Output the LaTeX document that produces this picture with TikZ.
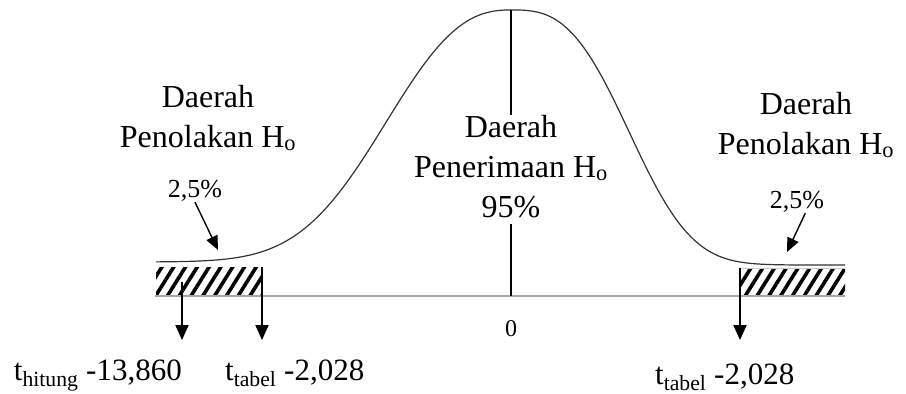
\documentclass[tikz,border=0pt]{standalone}
\usepackage{fontspec}
\setmainfont{Liberation Serif}
\usepackage{tikz}
\usetikzlibrary{arrows.meta, patterns.meta, positioning}

\begin{document}
\begin{tikzpicture}[x=1pt, y=-1pt, on grid, node distance=40pt,
    daerah/.style={font=\fontsize{32}{38}\selectfont, inner sep=0pt, text height=22pt, text depth=7pt},
    persen/.style={font=\fontsize{26}{30}\selectfont, inner sep=1pt, anchor=base},
    tlabel/.style={font=\fontsize{31}{36}\selectfont, inner sep=0pt},
    panah/.style={-{Triangle[length=15pt, width=13pt]}, line width=2pt},
    kecil/.style={-{Triangle[length=14pt, width=12pt]}, line width=1.4pt},
    arsir/.style={pattern={Lines[angle=58, distance=10pt, line width=3.6pt]}},
    kurva/.style={black!80, line width=1.2pt}]
    \useasboundingbox (0,0) rectangle (906,394);

    \fill[arsir] (156,267) rectangle (262,295);
    \fill[arsir] (740,268) rectangle (845,295);
    \draw[gray!40, line width=0.8pt] (740,268) -- (845,268);
    \draw[gray!70, line width=2.5pt] (155,296) -- (845,296);

    \draw[kurva] plot[domain=156:511, samples=120]
        (\x, {262-252*exp(-1*pow((511.001-\x)/155, 2.45))});
    \draw[kurva] plot[domain=511:845, samples=120]
        (\x, {265-255*exp(-1*pow((\x-510.999)/137, 2.9))});

    \coordinate (puncak) at (511,10);
    \coordinate (nol) at (511,296);

    \node[daerah, anchor=base] (d1) at (208,107) {Daerah};
    \node[daerah] (d2) [below=of d1] {Penolakan H\textsubscript{o}};

    \node[daerah, anchor=base] (c1) at (511,137) {Daerah};
    \node[daerah] (c2) [below=of c1] {Penerimaan H\textsubscript{o}};
    \node[daerah] (c3) [below=of c2] {95\%};

    \node[daerah, anchor=base] (r1) at (806,114) {Daerah};
    \node[daerah] (r2) [below=of r1] {Penolakan H\textsubscript{o}};

    \node[persen] (pl) at (195,197) {2,5\%};
    \node[persen] (pr) at (797,208) {2,5\%};
    \coordinate (al) at (218,250);
    \coordinate (ar) at (787,252);

    \coordinate (h1) at (182,282);
    \coordinate (h1b) at (182,340);
    \coordinate (h2) at (262,267);
    \coordinate (h2b) at (262,340);
    \coordinate (h3) at (740,268);
    \coordinate (h3b) at (740,340);

    \node[tlabel, anchor=base east] (thit) at (182,380) {t\textsubscript{hitung} -13,860};
    \node[tlabel, anchor=base west] (ttab1) at (225,380) {t\textsubscript{tabel} -2,028};
    \node[tlabel, anchor=base west] (ttab2) at (655,384) {t\textsubscript{tabel} -2,028};
    \node[font=\fontsize{24}{28}\selectfont, anchor=base] (angka0) at (511,336) {0};

    \draw[line width=1.1pt] (puncak) -- (c1) (c3) -- (nol);

    \path[panah]
    (h1) edge (h1b)
    (h2) edge (h2b)
    (h3) edge (h3b);

    \path[kecil]
    (pl.south) edge (al)
    (pr.-55) edge (ar);
\end{tikzpicture}
\end{document}
